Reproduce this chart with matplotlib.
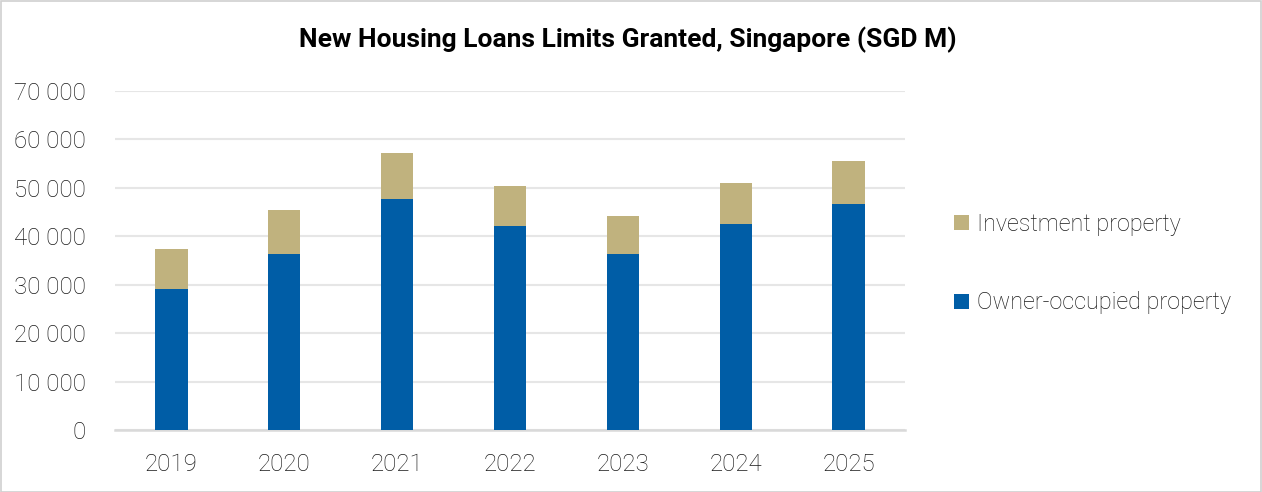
import matplotlib.pyplot as plt
from matplotlib.ticker import FuncFormatter
from matplotlib.patches import Rectangle

# data (SGD M)
years = ["2019", "2020", "2021", "2022", "2023", "2024", "2025"]
owner_occupied = [29200, 36300, 47600, 42100, 36300, 42500, 46600]
investment = [8100, 9100, 9600, 8300, 7900, 8400, 8900]

blue = "#005DA6"
tan = "#C0B27E"

plt.rcParams["font.family"] = ["Roboto", "DejaVu Sans"]

W, H = 1262, 492
fig = plt.figure(figsize=(W / 100, H / 100), dpi=100)

# axes placed in pixel terms: x 115..905, y 91..430
ax = fig.add_axes([115 / W, 1 - 430 / H, (905 - 115) / W, (430 - 91) / H])

x = range(len(years))
ax.bar(x, owner_occupied, width=0.285, color=blue, label="Owner-occupied property", zorder=3)
ax.bar(x, investment, width=0.285, bottom=owner_occupied, color=tan,
       label="Investment property", zorder=3)

ax.set_xlim(-0.5, len(years) - 0.5)
ax.set_ylim(0, 70000)
ax.set_yticks(range(0, 70001, 10000))
ax.yaxis.set_major_formatter(FuncFormatter(lambda v, p: f"{int(v):,}".replace(",", " ")))
ax.set_xticks(list(x))
ax.set_xticklabels(years)

ax.grid(axis="y", color="#e6e6e6", linewidth=1.5, zorder=0)
for s in ["top", "right", "left"]:
    ax.spines[s].set_visible(False)
ax.spines["bottom"].set_color("#d9d9d9")
ax.spines["bottom"].set_linewidth(1.8)
ax.tick_params(axis="both", length=0, labelsize=17.3, colors="#1a1a1a")
ax.tick_params(axis="y", pad=21)
ax.tick_params(axis="x", pad=16.5)
for lbl in ax.get_xticklabels() + ax.get_yticklabels():
    lbl.set_fontweight("light")

fig.text(628 / W, 1 - 40 / H, "New Housing Loans Limits Granted, Singapore (SGD M)",
         ha="center", va="center", fontsize=19, fontweight="bold", color="black")

# legend, investment on top
handles, labels = ax.get_legend_handles_labels()
leg = fig.legend(handles[::-1], labels[::-1], loc="center left",
                 bbox_to_anchor=(933 / W, 1 - 263.5 / H), frameon=False,
                 prop={"size": 16.8, "weight": "light"}, labelspacing=2.4,
                 handlelength=0.64, handleheight=0.64, handletextpad=0.35)
for t in leg.get_texts():
    t.set_color("#1a1a1a")

# light frame around the whole picture
fig.patches.append(Rectangle((0.5 / W, 0.5 / H), 1 - 1.5 / W, 1 - 1.5 / H,
                             transform=fig.transFigure, fill=False,
                             edgecolor="#d0d0d0", linewidth=1.2))

fig.savefig("out.png", dpi=100)
